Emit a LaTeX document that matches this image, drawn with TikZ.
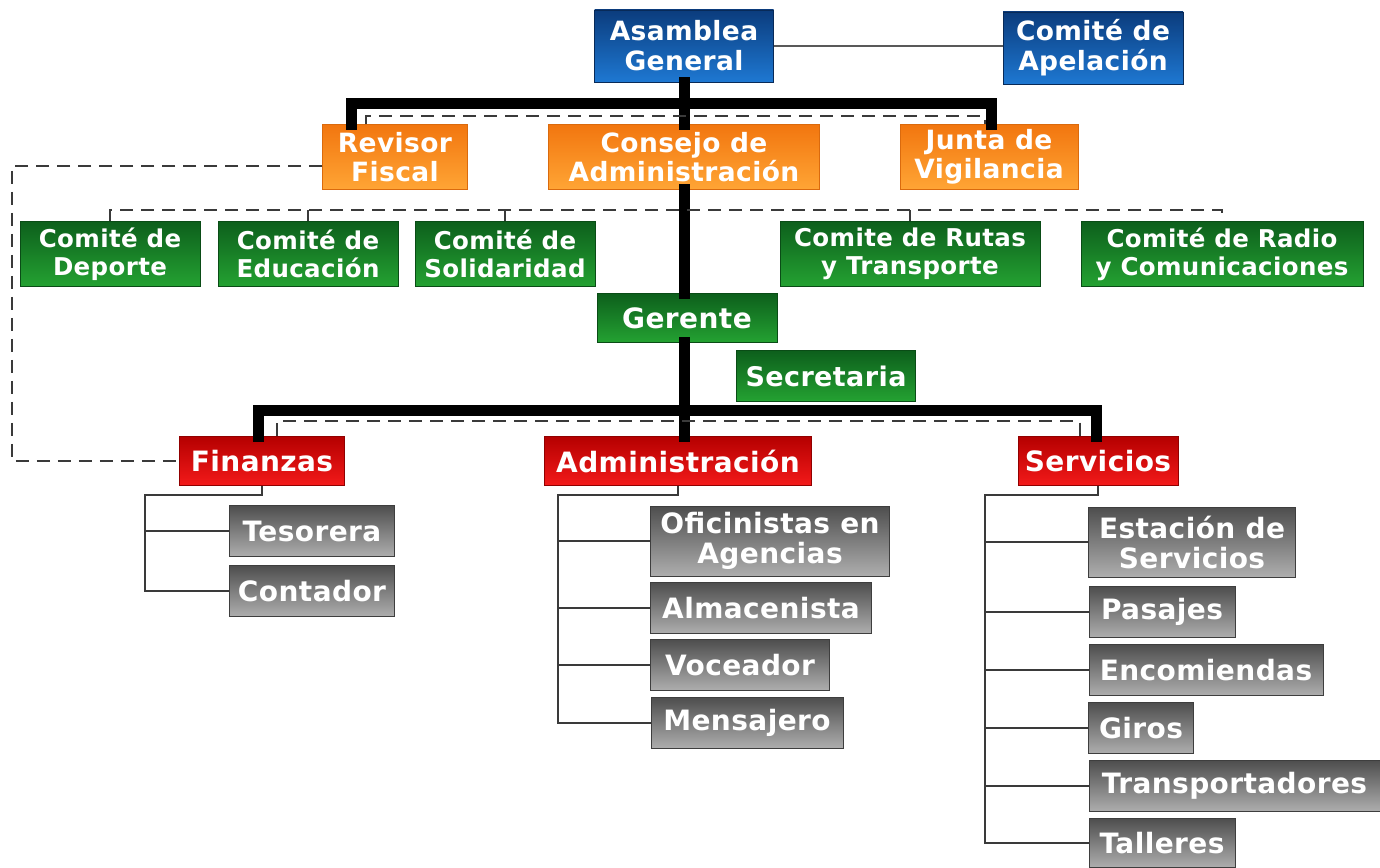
\documentclass[tikz,border=0pt]{standalone}
\usepackage{fontspec}
\setmainfont{DejaVu Sans}
\newfontfamily\boxfont[LetterSpace=1.5]{DejaVu Sans}
\usetikzlibrary{calc}
\definecolor{bTop}{HTML}{0B3C7D}
\definecolor{bBot}{HTML}{1E78D2}
\definecolor{oTop}{HTML}{F2760F}
\definecolor{oBot}{HTML}{FFA535}
\definecolor{gTop}{HTML}{0D5F1C}
\definecolor{gBot}{HTML}{24A232}
\definecolor{rTop}{HTML}{B50000}
\definecolor{rBot}{HTML}{F31A1A}
\definecolor{yTop}{HTML}{4E4E4E}
\definecolor{yBot}{HTML}{AEAEAE}
\definecolor{lineg}{HTML}{3A3A3A}
\tikzset{
  boxbase/.style={inner sep=0pt, align=center, text=white, line width=0.8pt},
  wh/.style 2 args={minimum width=#1, minimum height=#2},
  bluebox/.style={boxbase, top color=bTop, bottom color=bBot, draw=bTop!70!black, font=\boxfont\fontsize{26.5}{30}\selectfont\bfseries},
  orangebox/.style={boxbase, top color=oTop, bottom color=oBot, draw=oTop!90!black, font=\boxfont\fontsize{26.5}{29.5}\selectfont\bfseries},
  greenbox/.style={boxbase, top color=gTop, bottom color=gBot, draw=gTop!80!black, font=\boxfont\fontsize{24.5}{28}\selectfont\bfseries},
  redbox/.style={boxbase, top color=rTop, bottom color=rBot, draw=rTop!80!black, font=\boxfont\fontsize{28}{31}\selectfont\bfseries},
  graybox/.style={boxbase, top color=yTop, bottom color=yBot, draw=yTop!80!black, font=\boxfont\fontsize{28}{30}\selectfont\bfseries},
  bus/.style={line width=11pt, black, line cap=rect},
  dashln/.style={line width=2pt, lineg, dash pattern=on 13pt off 8pt},
  thinln/.style={line width=2pt, lineg},
  tick/.style={line width=1.5pt, lineg}
}
\begin{document}
\begin{tikzpicture}[x=1pt,y=-1pt]
\fill[white] (0,0) rectangle (1380,867);
\useasboundingbox (0,0) rectangle (1380,867);

\coordinate (b1) at (684,103);
\coordinate (b2) at (684,410);
\coordinate (lft) at (12,300);
\coordinate (fs) at (145,495);
\coordinate (as) at (558,495);
\coordinate (ss) at (985,495);

% top level
\node[bluebox, wh={179}{72}] (ag) at (684,46) {Asamblea\\General};
\node[bluebox, wh={180}{72}] (ca) at (1093,48) {Comité de\\Apelación};
\node[orangebox, wh={145}{65}] (rf) at (395,157) {Revisor\\Fiscal};
\node[orangebox, wh={271}{65}] (cda) at (684,157) {Consejo de\\Administración};
\node[orangebox, wh={178}{65}] (jv) at (989,157) {Junta de\\Vigilancia};

% committees
\node[greenbox, wh={180}{65}] (dep) at (110,254) {Comité de\\Deporte};
\node[greenbox, wh={180}{65}] (edu) at (308,254) {Comité de\\Educación};
\node[greenbox, wh={180}{65}] (sol) at (505,254) {Comité de\\Solidaridad};
\node[greenbox, wh={260}{65}] (rut) at (910,254) {Comite de Rutas\\y Transporte};
\node[greenbox, wh={282}{65}] (rad) at (1222,254) {Comité de Radio\\y Comunicaciones};
\node[greenbox, wh={180}{49}, font=\boxfont\fontsize{28}{31}\selectfont\bfseries] (ger) at (687,318) {Gerente};
\node[greenbox, wh={179}{51}, font=\boxfont\fontsize{27}{30}\selectfont\bfseries] (sec) at (826,376) {Secretaria};

% departments
\node[redbox, wh={165}{49}] (fin) at (262,461) {Finanzas};
\node[redbox, wh={267}{49}] (adm) at (678,461) {Administración};
\node[redbox, wh={160}{49}] (ser) at (1098,461) {Servicios};

% Finanzas staff
\node[graybox, wh={165}{51}] (tes) at (312,531) {Tesorera};
\node[graybox, wh={165}{51}] (con) at (312,591) {Contador};

% Administracion staff
\node[graybox, wh={239}{70}] (ofi) at (770,541) {Oficinistas en\\Agencias};
\node[graybox, wh={221}{51}] (alm) at (761,608) {Almacenista};
\node[graybox, wh={179}{51}] (voc) at (740,665) {Voceador};
\node[graybox, wh={192}{51}] (men) at (747,723) {Mensajero};

% Servicios staff
\node[graybox, wh={207}{70}] (est) at (1192,542) {Estación de\\Servicios};
\node[graybox, wh={146}{51}] (pas) at (1162,612) {Pasajes};
\node[graybox, wh={234}{51}] (enc) at (1206,670) {Encomiendas};
\node[graybox, wh={105}{51}] (gir) at (1141,728) {Giros};
\node[graybox, wh={291}{51}] (tra) at (1234.5,786) {Transportadores};
\node[graybox, wh={146}{49}] (tal) at (1162,843) {Talleres};

% thin line Asamblea - Comite de Apelacion
\draw[line width=2pt, gray!70!black] (ag.east) -- (ag.east -| ca.west);

% thick buses
\draw[bus] (ag.south) -- (cda.north);
\draw[bus] ($(rf.north west)+(29,0)$) |- (b1) -| ($(jv.north west)+(92,0)$);
\draw[bus] (cda.south) -- (cda.south |- ger.north);
\draw[bus] (cda.south |- ger.south) -- (cda.south |- adm.north);
\draw[bus] ($(fin.north west)+(79,0)$) |- (b2) -| ($(ser.north west)+(79,0)$);

% dashed under bus 1
\draw[dashln] ($(rf.north west)+(44,0)$) -- ++(0,-8) -| ($(jv.north west)+(85,0)$);
% dashed under bus 2
\draw[dashln] ($(fin.north west)+(98,0)$) -- ++(0,-15) -| ($(ser.north west)+(62,0)$);
% dashed Revisor - Finanzas
\draw[dashln] ($(rf.west)+(0,9)$) -| (lft) |- (fin.west);
% committee dashed line
\draw[dashln] (dep.north) -- ++(0,-11) -| (rad.north);
\draw[tick] (edu.north) -- ++(0,-11);
\draw[tick] (sol.north) -- ++(0,-11);
\draw[tick] (rut.north) -- ++(0,-11);

% Finanzas subtree
\draw[thinln] (fin.south) |- (fs) |- (con.west);
\draw[thinln] (fs |- tes.west) -- (tes.west);
% Administracion subtree
\draw[thinln] (adm.south) |- (as) |- (men.west);
\draw[thinln] (as |- ofi.west) -- (ofi.west);
\draw[thinln] (as |- alm.west) -- (alm.west);
\draw[thinln] (as |- voc.west) -- (voc.west);
% Servicios subtree
\draw[thinln] (ser.south) |- (ss) |- (tal.west);
\draw[thinln] (ss |- est.west) -- (est.west);
\draw[thinln] (ss |- pas.west) -- (pas.west);
\draw[thinln] (ss |- enc.west) -- (enc.west);
\draw[thinln] (ss |- gir.west) -- (gir.west);
\draw[thinln] (ss |- tra.west) -- (tra.west);
\end{tikzpicture}
\end{document}
